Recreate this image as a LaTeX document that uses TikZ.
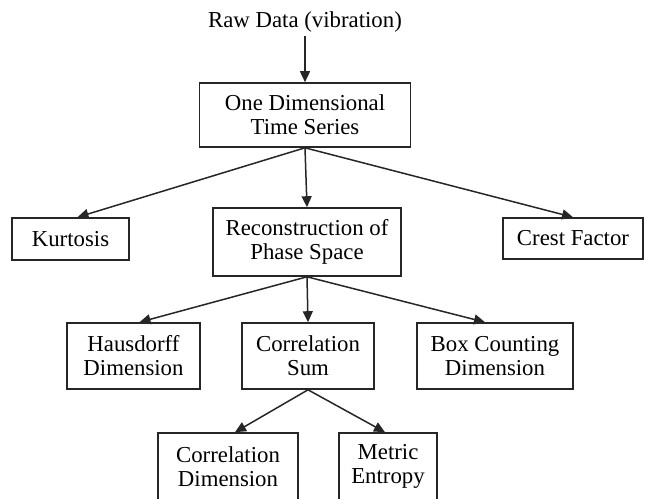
\documentclass[tikz,border=0pt]{standalone}
\usepackage{fontspec}
\setmainfont{Liberation Serif}
\usetikzlibrary{arrows.meta}

\begin{document}
\begin{tikzpicture}
        [x=1pt,y=-1pt,
         every node/.style={align=center,font=\fontsize{22.8}{24}\selectfont},
         stage/.style={draw=black!85,line width=1.6pt,inner sep=0pt},
         flow/.style={draw=black!85,line width=1.5pt,-{Triangle[length=11pt,width=10pt]}}]

        \useasboundingbox (0,0) rectangle (645,498);

        \node (raw) at (305,22) {Raw Data (vibration)};
        \node[stage,minimum width=211pt,minimum height=64pt] (one) at (305,115) {One Dimensional\\Time Series};
        \node[stage,minimum width=117pt,minimum height=42pt] (kurt) at (70.5,239) {Kurtosis};
        \node[stage,minimum width=188pt,minimum height=68pt] (recon) at (307,242) {Reconstruction of\\Phase Space};
        \node[stage,minimum width=140pt,minimum height=41pt] (crest) at (573,238.5) {Crest Factor};
        \node[stage,minimum width=133pt,minimum height=66pt] (haus) at (133.5,356) {Hausdorff\\Dimension};
        \node[stage,minimum width=132pt,minimum height=66pt] (csum) at (308,356) {Correlation\\Sum};
        \node[stage,minimum width=156pt,minimum height=66pt] (boxc) at (495,356) {Box Counting\\Dimension};
        \node[stage,minimum width=140pt,minimum height=67pt] (cdim) at (228,466.5) {Correlation\\Dimension};
        \node[stage,minimum width=98pt,minimum height=67pt] (ment) at (388,466.5) {Metric\\Entropy};

        \draw[flow] (raw) -- (one);
        \draw[flow] (one.south) -- ([xshift=7pt]kurt.north);
        \draw[flow] (one.south) -- (recon.north);
        \draw[flow] (one.south) -- (crest.north);
        \draw[flow] (recon.south) -- ([xshift=6pt]haus.north);
        \draw[flow] (recon.south) -- (csum.north);
        \draw[flow] (recon.south) -- ([xshift=-10pt]boxc.north);
        \draw[flow] (csum.south) -- ([xshift=7pt]cdim.north);
        \draw[flow] (csum.south) -- ([xshift=-3pt]ment.north);
      \end{tikzpicture}
\end{document}
